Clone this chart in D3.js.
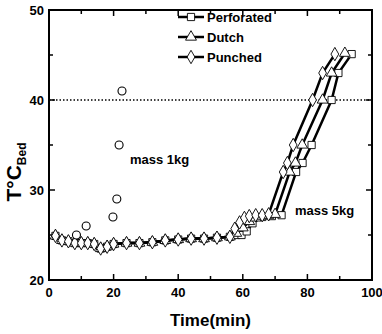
<!DOCTYPE html>
<html>
<head>
<meta charset="utf-8">
<script src="https://cdn.jsdelivr.net/npm/d3@7"></script>
<style>
  body { margin: 0; background: #fff; }
  text { font-family: "Liberation Sans", Arial, sans-serif; font-weight: bold; fill: #000; }
</style>
</head>
<body>
<div id="output"></div>
<script>
(function () {

"use strict";

// flat part shared by all three runs
var flatTime = [2, 4, 6, 8, 10, 12, 14, 16, 18, 20, 24, 28, 32, 36, 40, 44, 48, 52, 56]
var flatTemp = [24.9, 24.4, 24.3, 24.1, 24.1, 24.1, 24.0, 23.5, 23.7, 24.0, 24.1, 24.1, 24.2, 24.4, 24.5, 24.6, 24.6, 24.7, 24.8]

var perforatedTime = [58, 59.6, 61.2, 63, 66, 69, 72, 76.5, 78.5, 81.3, 87.5, 89.6, 93.7]
var perforatedTemp = [25.0, 25.0, 25.4, 26.3, 27.0, 27.1, 27.2, 32, 33, 35, 40, 43, 45.1]
var dutchTime = [58, 60, 62, 64, 66, 68, 70, 74.5, 76.3, 78.4, 84.7, 87.5, 91.6]
var dutchTemp = [25.2, 25.8, 26.5, 26.9, 27.1, 27.2, 27.3, 32, 33, 35, 40, 43, 45.2]
var punchedTime = [57.5, 59, 60.5, 62, 64, 66, 68, 72.5, 73.8, 75.6, 81.6, 84.7, 88.5]
var punchedTemp = [25.7, 26.4, 26.9, 27.1, 27.2, 27.2, 27.3, 32, 33, 35, 40, 43, 45.1]

// small bed, 1 kg
var mass1Time = [8.5, 11.5, 19.8, 21, 21.7, 22.6]
var mass1Temp = [25, 26, 27, 29, 35, 41]

var xTicks = [0, 20, 40, 60, 80, 100]
var yTicks = [20, 30, 40, 50]
var seriesNames = ["Perforated", "Dutch", "Punched"]
var seriesShapes = [d3.symbolSquare, d3.symbolTriangle, d3.symbolDiamond]

function pairs(t, v) { return t.map(function (d, i) { return { t: d, v: v[i] } }) }

var series = [
  pairs(flatTime.concat(perforatedTime), flatTemp.concat(perforatedTemp)),
  pairs(flatTime.concat(dutchTime), flatTemp.concat(dutchTemp)),
  pairs(flatTime.concat(punchedTime), flatTemp.concat(punchedTemp))
]

var width = 382, height = 334
var left = 49, right = 372, top = 10, bottom = 280

var svg = d3.select("#output").append("svg").attr("width", width).attr("height", height)

var x = d3.scaleLinear().domain([0, 100]).range([left, right])
var y = d3.scaleLinear().domain([20, 50]).range([bottom, top])

// frame
svg.append("rect")
  .attr("x", left).attr("y", top)
  .attr("width", right - left).attr("height", bottom - top)
  .attr("fill", "none").attr("stroke", "#000").attr("stroke-width", 2)

// ticks on all four sides, pointing in
var xMinor = d3.range(10, 100, 20), yMinor = [25, 35, 45]
function ticks(vals, len, horiz) {
  vals.forEach(function (v) {
    if (horiz) {
      svg.append("line").attr("x1", x(v)).attr("x2", x(v)).attr("y1", bottom).attr("y2", bottom - len).attr("stroke", "#000").attr("stroke-width", 1.5)
      svg.append("line").attr("x1", x(v)).attr("x2", x(v)).attr("y1", top).attr("y2", top + len).attr("stroke", "#000").attr("stroke-width", 1.5)
    } else {
      svg.append("line").attr("y1", y(v)).attr("y2", y(v)).attr("x1", left).attr("x2", left + len).attr("stroke", "#000").attr("stroke-width", 1.5)
      svg.append("line").attr("y1", y(v)).attr("y2", y(v)).attr("x1", right).attr("x2", right - len).attr("stroke", "#000").attr("stroke-width", 1.5)
    }
  })
}
ticks(xTicks, 6, true)
ticks(xMinor, 4, true)
ticks(yTicks, 6, false)
ticks(yMinor, 4, false)

svg.selectAll("text.xt").data(xTicks).enter().append("text")
  .attr("x", function (d) { return x(d) }).attr("y", bottom + 17)
  .attr("text-anchor", "middle").style("font-size", "13px")
  .text(function (d) { return d })

svg.selectAll("text.yt").data(yTicks).enter().append("text")
  .attr("x", left - 5).attr("y", function (d) { return y(d) + 5 })
  .attr("text-anchor", "end").style("font-size", "13px")
  .text(function (d) { return d })

// axis titles
svg.append("text").attr("x", (left + right) / 2).attr("y", 326)
  .attr("text-anchor", "middle").style("font-size", "17px").text("Time(min)")

var yl = svg.append("text")
  .attr("transform", "translate(21," + 172 + ") rotate(-90)")
  .attr("text-anchor", "middle").style("font-size", "21px")
yl.append("tspan").text("T°C")
yl.append("tspan").attr("dy", 5).style("font-size", "12px").text("Bed")

// 40 °C reference
svg.append("line")
  .attr("x1", left).attr("x2", right).attr("y1", y(40)).attr("y2", y(40))
  .attr("stroke", "#000").attr("stroke-width", 1.3).attr("stroke-dasharray", "1.5,2")

var line = d3.line().x(function (d) { return x(d.t) }).y(function (d) { return y(d.v) })

series.forEach(function (s, k) {
  svg.append("path").datum(s).attr("d", line)
    .attr("fill", "none").attr("stroke", "#000").attr("stroke-width", 2.5)
})
series.forEach(function (s, k) {
  svg.selectAll("path.m" + k).data(s).enter().append("path")
    .attr("transform", function (d) { return "translate(" + x(d.t) + "," + y(d.v) + ")" })
    .attr("d", d3.symbol().type(seriesShapes[k]).size(k == 1 ? 50 : 52))
    .attr("fill", "#fff").attr("stroke", "#000").attr("stroke-width", 0.9)
})

svg.selectAll("circle.m1").data(pairs(mass1Time, mass1Temp)).enter().append("circle")
  .attr("cx", function (d) { return x(d.t) }).attr("cy", function (d) { return y(d.v) })
  .attr("r", 4).attr("fill", "#fff").attr("stroke", "#000").attr("stroke-width", 1.1)

// legend
seriesNames.forEach(function (name, i) {
  var ly = 17 + i * 20
  svg.append("line").attr("x1", 178).attr("x2", 204).attr("y1", ly).attr("y2", ly)
    .attr("stroke", "#000").attr("stroke-width", 2.5)
  svg.append("path").attr("transform", "translate(191," + ly + ")")
    .attr("d", d3.symbol().type(seriesShapes[i]).size(52))
    .attr("fill", "#fff").attr("stroke", "#000").attr("stroke-width", 0.9)
  svg.append("text").attr("x", 207).attr("y", ly + 5).style("font-size", "13px").text(name)
})

svg.append("text").attr("x", 130).attr("y", 164).style("font-size", "13px").text("mass 1kg")
svg.append("text").attr("x", 295).attr("y", 215).style("font-size", "13px").text("mass 5kg")

}())
</script>
</body>
</html>
